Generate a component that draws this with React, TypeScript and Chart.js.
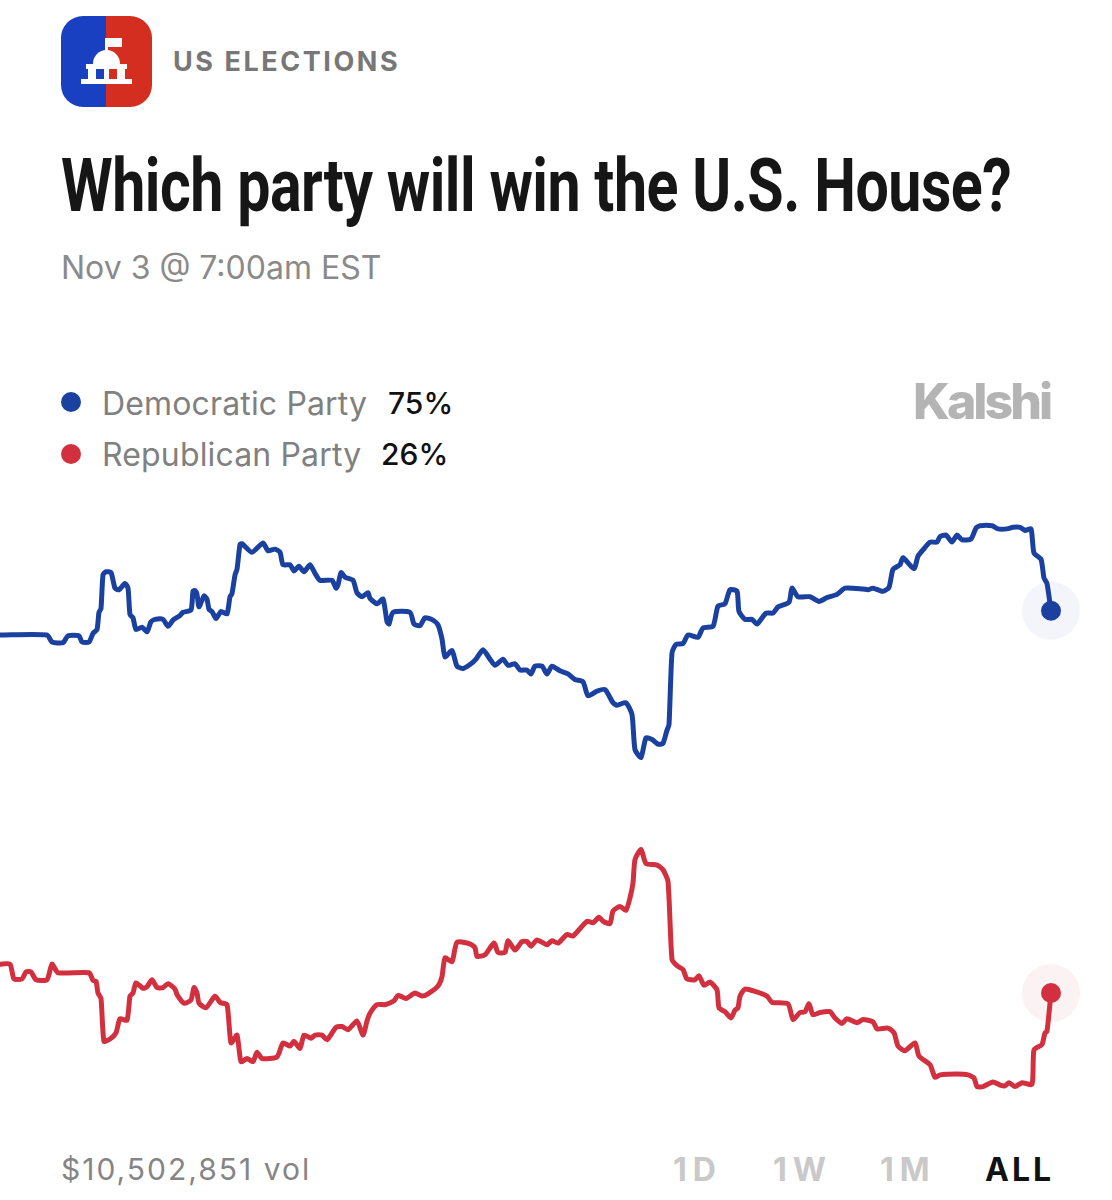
import React, {useEffect, useRef} from "react";
import {Chart} from 'chart.js/auto';

// x = position along the time range, y = % chance
const demX = [0,47,52,63,68,79,82,89,93,97,99,101,103,106,111,115,119,125,128,130,133,136,142,147,151,155,163,168,173,180,183,191,193,195,197,199,204,207,209,212,216,221,227,230,232,235,237,240,242,252,263,268,275,280,283,290,294,299,304,310,315,320,332,336,338,341,345,353,357,362,368,370,377,383,387,389,393,410,414,420,425,433,438,442,445,452,457,463,470,476,483,490,495,503,508,515,520,527,531,535,542,547,552,560,568,575,583,588,597,605,613,617,626,632,635,641,646,652,658,663,667,669,672,676,683,688,698,703,713,718,725,730,737,739,745,752,757,766,773,778,789,792,798,810,819,827,837,845,863,868,873,883,889,893,900,903,914,918,923,930,937,940,946,952,957,962,971,976,980,992,998,1007,1013,1020,1025,1031,1034,1041,1044,1047,1051];
const demPct = [71.9,71.9,71.0,70.9,71.8,71.8,71.0,71.0,72.1,72.6,74.8,75.3,79.6,80.0,79.9,77.9,77.7,78.5,77.9,74.5,74.1,72.6,72.9,72.3,73.6,73.9,73.9,73.0,73.8,74.4,74.8,75.1,77.5,77.6,77.1,75.5,76.9,76.5,75.2,74.9,74.0,74.9,74.6,76.8,77.2,79.6,80.3,83.5,83.6,82.5,83.7,82.7,82.9,82.5,80.9,80.9,80.1,80.7,80.0,80.9,79.8,78.9,78.9,77.9,78.3,79.9,79.3,78.9,77.3,76.8,77.3,76.6,75.9,76.5,73.6,73.3,74.8,74.8,73.3,73.1,74.1,73.8,73.2,71.4,69.1,69.9,67.9,67.6,68.1,68.8,70.0,68.8,68.0,68.8,68.0,68.2,67.4,67.4,66.9,67.9,67.9,66.9,67.9,67.3,66.9,66.2,65.9,64.1,64.7,64.9,63.2,62.9,63.2,61.7,57.2,56.2,58.7,58.5,57.9,58.0,59.7,60.4,69.6,70.7,70.8,71.9,71.6,72.8,73.0,75.6,75.9,77.7,77.5,74.9,73.9,73.9,73.3,74.7,74.7,75.5,76.1,77.9,76.8,76.8,76.2,76.7,77.1,77.9,77.8,77.7,77.9,77.5,78.0,80.3,80.9,81.8,80.4,82.0,82.8,83.8,83.8,84.5,84.7,83.8,84.7,84.1,84.2,85.6,85.9,85.9,85.5,85.5,85.7,85.7,85.3,85.5,82.4,81.6,79.2,78.5,75.0];

const repX = [0,10,14,22,26,31,36,47,52,58,89,93,96,98,101,104,110,116,120,127,130,133,136,143,147,152,157,163,168,175,177,184,191,194,197,199,206,215,220,227,231,237,241,247,253,257,262,277,283,290,294,300,304,311,315,322,327,336,342,348,357,363,367,370,377,385,394,398,406,415,422,428,438,442,445,452,457,470,475,477,485,494,498,505,508,515,522,527,531,537,547,552,558,567,573,587,593,599,603,610,613,620,626,630,633,635,641,646,657,663,668,672,677,683,687,695,699,704,710,717,719,725,731,735,738,740,745,755,767,772,788,793,800,805,809,813,820,830,835,842,847,857,863,873,877,888,894,898,905,915,919,930,935,940,957,968,974,977,983,993,1000,1005,1009,1015,1022,1032,1034,1042,1045,1047,1051];
const repPct = [29.7,29.7,27.8,27.8,28.7,28.7,27.7,27.7,29.7,28.6,28.6,27.6,27.5,26.0,25.3,19.8,20.1,20.9,22.7,22.5,25.6,26.0,27.3,26.6,26.8,27.7,26.7,26.7,27.2,26.5,25.8,24.7,25.1,26.7,26.0,24.7,24.1,25.6,24.8,24.5,19.6,20.6,17.2,17.6,17.2,18.4,17.6,17.8,19.6,19.2,19.8,18.9,20.6,20.2,20.6,20.6,20.0,21.6,21.7,21.3,22.4,20.6,22.4,23.4,24.5,24.5,25.0,25.7,25.3,26.0,25.6,25.9,26.9,28.1,30.5,30.0,32.5,32.3,31.8,30.7,30.9,32.4,31.2,31.2,32.7,31.5,32.6,32.6,32.0,32.8,32.2,32.7,32.4,33.5,33.3,35.2,35.0,35.7,35.2,34.9,36.5,37.1,36.6,38.2,40.1,43.1,44.4,42.6,42.4,41.8,40.3,30.3,29.5,29.0,27.8,27.7,28.2,27.0,27.4,26.4,24.1,23.6,22.8,23.8,24.1,25.6,26.5,26.2,25.6,24.8,24.6,22.6,23.5,23.6,24.6,23.2,23.5,23.6,22.8,22.1,22.7,22.2,22.6,22.3,21.4,21.5,20.9,19.2,18.6,19.6,17.9,16.8,15.2,15.5,15.6,15.5,15.1,14.0,14.0,14.6,14.2,14.1,14.5,14.0,14.5,14.3,18.7,19.4,20.9,21.1,26.0];

const partyNames = ["Democratic Party", "Republican Party"];
const partyOdds = ["75%", "26%"];
const ranges = ["1D", "1W", "1M", "ALL"];

const DEM = '#1a41a0';
const REP = '#d3303f';
const SANS = 'Inter, "Open Sans", sans-serif';

const toPoints = (xs: number[], ys: number[]) => xs.map((x, i) => ({x, y: ys[i]}));

const lineSet = (xs: number[], ys: number[], color: string) => ({
    data: toPoints(xs, ys),
    borderColor: color,
    backgroundColor: color,
    borderWidth: 5,
    borderJoinStyle: 'round' as const,
    tension: 0.2,
    order: 1,
    pointRadius: (c: any) => (c.dataIndex === xs.length - 1 ? 10 : 0),
    pointHoverRadius: 0,
    pointBorderWidth: 0,
});

const haloSet = (xs: number[], ys: number[], color: string) => ({
    data: toPoints(xs.slice(-1), ys.slice(-1)),
    showLine: false,
    order: 2,
    pointRadius: 29,
    pointBackgroundColor: color,
    pointBorderWidth: 0,
});

const Text: React.FC<{x: number; y: number; style: React.CSSProperties; children: React.ReactNode}> = ({x, y, style, children}) => (
    <div style={{position: 'absolute', left: x, top: y, whiteSpace: 'nowrap', lineHeight: 1, ...style}}>{children}</div>
);

const App: React.FC = () => {
    const canvasRef = useRef<HTMLCanvasElement>(null);

    useEffect(() => {
        if (canvasRef.current) {
            const chart = new Chart(canvasRef.current, {
                type: 'line',
                data: {
                    datasets: [
                        haloSet(demX, demPct, '#f3f5fb'),
                        haloSet(repX, repPct, '#fbf2f3'),
                        lineSet(demX, demPct, DEM),
                        lineSet(repX, repPct, REP),
                    ] as any,
                },
                options: {
                    animation: false,
                    responsive: false,
                    layout: {padding: 0, autoPadding: false},
                    events: [],
                    plugins: {legend: {display: false}, tooltip: {enabled: false}},
                    scales: {
                        x: {type: 'linear', display: false, min: 0, max: 1112},
                        y: {display: false, min: 11, max: 89.2},
                    },
                },
            });

            return () => {
                chart.destroy();
            };
        }
    }, []);

    const rangeX = [673, 773, 880, 985];

    return (
        <div style={{position: 'absolute', left: 0, top: 0, width: 1112, height: 1200, background: '#fff', overflow: 'hidden', fontFamily: SANS}}>
            <svg width={1112} height={120} style={{position: 'absolute', left: 0, top: 0}}>
                <defs>
                    <clipPath id="tile"><rect x={61} y={16} width={91} height={91} rx={22}/></clipPath>
                </defs>
                <g clipPath="url(#tile)">
                    <rect x={61} y={16} width={45} height={91} fill="#1a40c2"/>
                    <rect x={106} y={16} width={46} height={91} fill="#d42e20"/>
                </g>
                <g fill="#fff">
                    <rect x={105} y={38} width={17} height={9}/>
                    <rect x={105} y={38} width={3} height={14}/>
                    <path d="M93 64 A13.5 14 0 0 1 120 64 Z"/>
                    <rect x={86} y={64} width={41} height={5}/>
                    <rect x={88} y={69} width={8} height={11}/>
                    <rect x={104} y={69} width={5} height={11}/>
                    <rect x={117} y={69} width={8} height={11}/>
                    <rect x={81} y={79} width={51} height={5}/>
                </g>
                <rect x={96} y={69} width={8} height={10} fill="#1a40c2"/>
                <rect x={109} y={69} width={8} height={10} fill="#d42e20"/>
            </svg>

            <Text x={173} y={48} style={{fontSize: 27, fontWeight: 700, letterSpacing: 2.55, color: '#777'}}>US ELECTIONS</Text>
            <Text x={61} y={148} style={{fontFamily: 'Roboto, sans-serif', fontSize: 75, fontWeight: 700, color: '#161616', letterSpacing: -0.6, transform: 'scaleX(0.788)', transformOrigin: 'left top'}}>Which party will win the U.S. House?</Text>
            <Text x={61} y={252} style={{fontSize: 32, color: '#8a8a8a', letterSpacing: 0}}>Nov 3 @ 7:00am EST</Text>

            <div style={{position: 'absolute', left: 61, top: 392, width: 20, height: 20, borderRadius: 10, background: DEM}}/>
            <Text x={102} y={388} style={{fontSize: 32, color: '#808080', letterSpacing: 0.15}}>{partyNames[0]}</Text>
            <Text x={388} y={388} style={{fontSize: 30, fontWeight: 500, color: '#111'}}>{partyOdds[0]}</Text>
            <div style={{position: 'absolute', left: 61, top: 444, width: 20, height: 20, borderRadius: 10, background: REP}}/>
            <Text x={102} y={439} style={{fontSize: 32, color: '#808080', letterSpacing: 0.15}}>{partyNames[1]}</Text>
            <Text x={381} y={439} style={{fontSize: 30, fontWeight: 500, color: '#111'}}>{partyOdds[1]}</Text>

            <Text x={913} y={376} style={{fontSize: 50, fontWeight: 800, letterSpacing: -3, color: '#b4b4b4'}}>Kalshi</Text>

            <canvas ref={canvasRef} width={1112} height={610} style={{position: 'absolute', left: 0, top: 500, display: 'block'}}></canvas>

            <Text x={61} y={1154} style={{fontSize: 30, color: '#858585', letterSpacing: 2}}>$10,502,851 vol</Text>
            {ranges.map((r, i) => (
                <Text key={r} x={rangeX[i]} y={1154} style={{fontSize: 32, fontWeight: 700, letterSpacing: r === 'ALL' ? 3 : 6, color: r === 'ALL' ? '#111' : '#c9c9c9'}}>{r}</Text>
            ))}
        </div>
    );
};

export default App;
